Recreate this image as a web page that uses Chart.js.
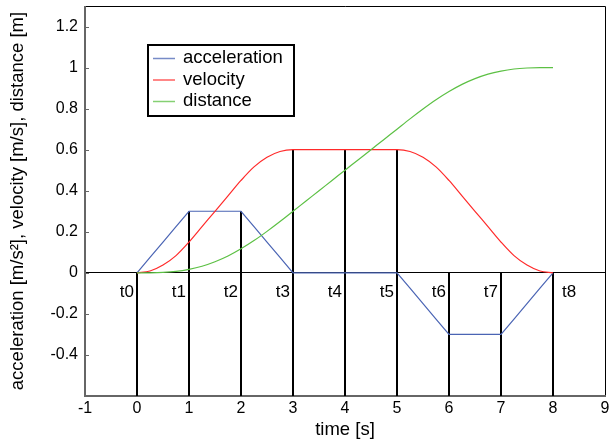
<!DOCTYPE html>
<html>
<head>
<meta charset="utf-8">
<script src="https://cdn.jsdelivr.net/npm/chart.js@4/dist/chart.umd.min.js"></script>
<style>
  html, body { margin: 0; padding: 0; background: #fff; }
  #wrap { width: 609px; height: 443px; position: relative; }
</style>
</head>
<body>
<div id="wrap"><canvas id="motionChart"></canvas></div>
<script>
// sample times [s] and the three profiles
const times = [0,0.25,0.5,0.75,1,1.25,1.5,1.75,2,2.25,2.5,2.75,3,3.25,3.5,3.75,4,4.25,4.5,4.75,5,5.25,5.5,5.75,6,6.25,6.5,6.75,7,7.25,7.5,7.75,8];
const acceleration = [0,0.075,0.15,0.225,0.3,0.3,0.3,0.3,0.3,0.225,0.15,0.075,0,0,0,0,0,0,0,0,0,-0.075,-0.15,-0.225,-0.3,-0.3,-0.3,-0.3,-0.3,-0.225,-0.15,-0.075,0];
const velocity = [0,0.009,0.038,0.084,0.15,0.225,0.3,0.375,0.45,0.516,0.563,0.591,0.6,0.6,0.6,0.6,0.6,0.6,0.6,0.6,0.6,0.591,0.563,0.516,0.45,0.375,0.3,0.225,0.15,0.084,0.038,0.009,0];
const distance = [0,0.0003,0.002,0.007,0.017,0.032,0.054,0.082,0.117,0.157,0.202,0.25,0.3,0.35,0.4,0.45,0.5,0.55,0.6,0.65,0.7,0.75,0.798,0.843,0.883,0.918,0.946,0.968,0.983,0.993,0.998,1.0,1.0];

// phase markers t0..t8
const markerTimes = [0,1,2,3,4,5,6,7,8];
const markerTops = [0,0.3,0.3,0.6,0.6,0.6,0,0,0];
const markerLabels = ['t0','t1','t2','t3','t4','t5','t6','t7','t8'];

const seriesNames = ['acceleration','velocity','distance'];
const seriesColors = ['#4a64b4','#ff2a2a','#5cc044'];

const xTicks = [-1,0,1,2,3,4,5,6,7,8,9];
const yTicks = [-0.4,-0.2,0,0.2,0.4,0.6,0.8,1,1.2];
const X_MIN = -1, X_MAX = 9, Y_MIN = -0.6, Y_MAX = 1.3;

const FONT = '"Liberation Sans", Arial, Helvetica, sans-serif';

function pts(ys) { return times.map((t,i) => ({x: t, y: ys[i]})); }

const markerData = [];
markerTimes.forEach((t,i) => {
  markerData.push({x: t, y: markerTops[i]}, {x: t, y: Y_MIN}, {x: t, y: null});
});

function noPad(s) { s.paddingTop = 0; s.paddingBottom = 0; s.paddingLeft = 0; s.paddingRight = 0; }

const framePlugin = {
  id: 'frame',
  beforeDatasetsDraw(chart) {
    const {ctx, chartArea: a} = chart;
    const ys = chart.scales.y;
    ctx.save();
    ctx.strokeStyle = '#000';
    ctx.lineWidth = 1;
    ctx.beginPath();
    ctx.moveTo(a.left, a.top + 0.5); ctx.lineTo(a.right + 0.5, a.top + 0.5);
    ctx.lineTo(a.right + 0.5, a.bottom);
    ctx.stroke();
    ctx.strokeStyle = '#666';
    ctx.lineWidth = 2;
    ctx.beginPath();
    ctx.moveTo(a.left, a.top); ctx.lineTo(a.left, a.bottom);
    ctx.lineTo(a.right + 1, a.bottom);
    ctx.stroke();
    // small inward ticks on the left axis
    ctx.lineWidth = 1;
    for (const v of yTicks) {
      const y = Math.round(ys.getPixelForValue(v)) + 0.5;
      ctx.beginPath(); ctx.moveTo(a.left, y); ctx.lineTo(a.left + 4, y); ctx.stroke();
    }
    ctx.restore();
  },
  afterDraw(chart) {
    const {ctx} = chart;
    const xs = chart.scales.x, ys = chart.scales.y;
    ctx.save();
    ctx.font = '17px ' + FONT;
    ctx.fillStyle = '#000';
    ctx.textBaseline = 'middle';
    const ly = ys.getPixelForValue(0) + 19;
    markerTimes.forEach((t,i) => {
      const px = xs.getPixelForValue(t);
      if (i === markerTimes.length - 1) {
        ctx.textAlign = 'left'; ctx.fillText(markerLabels[i], px + 9, ly);
      } else {
        ctx.textAlign = 'right'; ctx.fillText(markerLabels[i], px - 3, ly);
      }
    });
    // legend box
    const bx = 148, by = 45, bw = 146, bh = 71;
    ctx.fillStyle = '#fff';
    ctx.fillRect(bx, by, bw, bh);
    ctx.strokeStyle = '#000';
    ctx.lineWidth = 2;
    ctx.strokeRect(bx, by, bw, bh);
    ctx.font = '18.5px ' + FONT;
    ctx.textAlign = 'left';
    seriesNames.forEach((name,i) => {
      const ry = by + 13 + i * 21.5;
      ctx.strokeStyle = seriesColors[i];
      ctx.globalAlpha = 0.75;
      ctx.lineWidth = 1.5;
      ctx.beginPath(); ctx.moveTo(bx + 5, ry + 0.5); ctx.lineTo(bx + 27, ry + 0.5); ctx.stroke();
      ctx.globalAlpha = 1;
      ctx.fillStyle = '#000';
      ctx.fillText(name, bx + 35, ry);
    });
    ctx.restore();
  }
};

const ctx = document.getElementById('motionChart').getContext('2d');
new Chart(ctx, {
  type: 'line',
  data: {
    datasets: [
      { label: 'markers', data: markerData, borderColor: '#000', borderWidth: 2, pointRadius: 0, spanGaps: false, tension: 0, order: 4 },
      { label: seriesNames[0], data: pts(acceleration), borderColor: seriesColors[0], borderWidth: 1.2, pointRadius: 0, tension: 0, order: 3 },
      { label: seriesNames[1], data: pts(velocity), borderColor: seriesColors[1], borderWidth: 1.2, pointRadius: 0, cubicInterpolationMode: 'monotone', order: 2 },
      { label: seriesNames[2], data: pts(distance), borderColor: seriesColors[2], borderWidth: 1.2, pointRadius: 0, cubicInterpolationMode: 'monotone', order: 1 }
    ]
  },
  options: {
    responsive: true,
    maintainAspectRatio: false,
    animation: false,
    layout: { padding: { top: 6, right: 4, left: 0, bottom: 0 } },
    plugins: { legend: { display: false }, tooltip: { enabled: false } },
    scales: {
      x: {
        type: 'linear', min: X_MIN, max: X_MAX,
        afterBuildTicks: s => { s.ticks = xTicks.map(v => ({value: v})); },
        afterFit: s => { s.height = 47; noPad(s); },
        grid: { display: false, drawTicks: false },
        border: { display: false },
        ticks: { color: '#000', font: { family: FONT, size: 16 }, padding: 3, maxRotation: 0 },
        title: { display: true, text: 'time [s]', color: '#000', font: { family: FONT, size: 18.5 }, padding: { top: 0, bottom: 2 } }
      },
      y: {
        type: 'linear', min: Y_MIN, max: Y_MAX,
        afterBuildTicks: s => { s.ticks = yTicks.map(v => ({value: v})); },
        afterFit: s => { s.width = 85; noPad(s); },
        grid: { drawTicks: false, lineWidth: 1, color: c => (c.tick && c.tick.value === 0) ? '#000' : 'rgba(0,0,0,0)' },
        border: { display: false },
        ticks: { color: '#000', font: { family: FONT, size: 16 }, padding: 7, callback: v => String(v) },
        title: { display: true, text: 'acceleration [m/s²], velocity [m/s], distance [m]', color: '#000', font: { family: FONT, size: 18.5 }, padding: { top: 7, bottom: 0 } }
      }
    }
  },
  plugins: [framePlugin]
});
</script>
</body>
</html>
